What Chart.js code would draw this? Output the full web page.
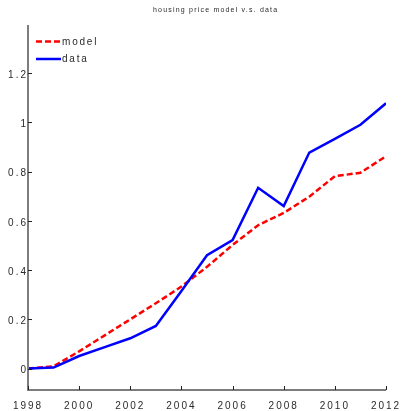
<!DOCTYPE html>
<html>
<head>
<meta charset="utf-8">
<script src="https://cdn.jsdelivr.net/npm/chart.js@4/dist/chart.umd.min.js"></script>
<style>
  html, body { margin: 0; padding: 0; background: #fff; }
  canvas { display: block; }
</style>
</head>
<body>
<canvas id="chart" width="403" height="411"></canvas>
<script>
// Housing price index: model output vs. observed data
const years = [1998, 1999, 2000, 2001, 2002, 2003, 2004, 2005, 2006, 2007, 2008, 2009, 2010, 2011, 2012];
const modelValues = [0, 0.009, 0.07, 0.135, 0.2, 0.265, 0.333, 0.413, 0.502, 0.582, 0.632, 0.698, 0.781, 0.795, 0.862];
const dataValues  = [0, 0.004, 0.051, 0.087, 0.123, 0.173, 0.315, 0.46, 0.522, 0.734, 0.66, 0.877, 0.933, 0.99, 1.077];
const xTickValues = [1998, 2000, 2002, 2004, 2006, 2008, 2010, 2012];
const yTickValues = [0, 0.2, 0.4, 0.6, 0.8, 1, 1.2];
const seriesNames = ['model', 'data'];
const titleText = 'housing price model v.s. data';

const FONT = '"Liberation Sans", Arial, sans-serif';
const TEXT_COLOR = '#2a2a2a';
const AXIS_COLOR = '#7d7d7d';

const toPoints = vals => years.map((y, i) => ({ x: y, y: vals[i] }));

// Spaced-out lettering for tick labels
const letterSpacing = {
  id: 'letterSpacing',
  beforeLayout(chart) { chart.ctx.letterSpacing = '2px'; },
  beforeDraw(chart) { chart.ctx.letterSpacing = '2px'; }
};

// Axis lines, inward tick marks, legend and title
const frame = {
  id: 'frame',
  afterDraw(chart) {
    const ctx = chart.ctx;
    const { left, right, top, bottom } = chart.chartArea;
    const xs = chart.scales.x, ys = chart.scales.y;
    ctx.save();
    ctx.setLineDash([]);
    ctx.strokeStyle = AXIS_COLOR;
    ctx.lineWidth = 2;
    ctx.beginPath();
    ctx.moveTo(left, top);
    ctx.lineTo(left, bottom);
    ctx.lineTo(right, bottom);
    ctx.stroke();

    ctx.strokeStyle = '#222';
    ctx.lineWidth = 1;
    ctx.beginPath();
    yTickValues.forEach(v => {
      const py = Math.round(ys.getPixelForValue(v)) + 0.5;
      ctx.moveTo(left, py);
      ctx.lineTo(left + 4, py);
    });
    xTickValues.forEach(v => {
      const px = Math.round(xs.getPixelForValue(v)) + 0.5;
      ctx.moveTo(px, bottom);
      ctx.lineTo(px, bottom - 4);
    });
    ctx.stroke();

    // legend
    const entries = chart.data.datasets;
    const legendY = [41.5, 59];
    entries.forEach((ds, i) => {
      const ly = legendY[i];
      ctx.strokeStyle = ds.borderColor;
      ctx.lineWidth = ds.borderWidth;
      ctx.setLineDash(ds.borderDash || []);
      ctx.beginPath();
      ctx.moveTo(36, ly);
      ctx.lineTo(61, ly);
      ctx.stroke();
      ctx.setLineDash([]);
      ctx.fillStyle = TEXT_COLOR;
      ctx.font = '10px ' + FONT;
      ctx.letterSpacing = '1.8px';
      ctx.textAlign = 'left';
      ctx.textBaseline = 'middle';
      ctx.fillText(ds.label, 62, ly + 0.5);
    });

    // title
    ctx.font = '7px ' + FONT;
    ctx.letterSpacing = '1.2px';
    ctx.fillStyle = TEXT_COLOR;
    ctx.textAlign = 'left';
    ctx.textBaseline = 'middle';
    ctx.fillText(titleText, 153, 10);
    ctx.restore();
  }
};

new Chart(document.getElementById('chart'), {
  type: 'line',
  data: {
    datasets: [
      {
        label: seriesNames[0],
        data: toPoints(modelValues),
        borderColor: '#ff0000',
        borderWidth: 2.5,
        borderDash: [6, 3],
        pointRadius: 0,
        tension: 0,
        order: 1
      },
      {
        label: seriesNames[1],
        data: toPoints(dataValues),
        borderColor: '#0000ff',
        borderWidth: 2.5,
        pointRadius: 0,
        tension: 0,
        order: 0
      }
    ]
  },
  options: {
    responsive: false,
    animation: false,
    devicePixelRatio: 1,
    layout: { padding: { top: 25, right: 17, left: 0, bottom: 0 } },
    plugins: {
      legend: { display: false },
      title: { display: false },
      tooltip: { enabled: false }
    },
    scales: {
      x: {
        type: 'linear',
        min: 1998,
        max: 2012,
        afterBuildTicks: s => { s.ticks = xTickValues.map(v => ({ value: v })); },
        afterFit: s => { s.height = 21; s.paddingLeft = 0; s.paddingRight = 0; },
        grid: { display: false, drawTicks: false },
        border: { display: false },
        ticks: {
          color: TEXT_COLOR,
          font: { family: FONT, size: 10 },
          padding: 10,
          maxRotation: 0,
          autoSkip: false,
          callback: v => String(v)
        }
      },
      y: {
        type: 'linear',
        min: -0.087,
        max: 1.395,
        afterBuildTicks: s => { s.ticks = yTickValues.map(v => ({ value: v })); },
        afterFit: s => { s.width = 28; s.paddingTop = 0; s.paddingBottom = 0; },
        grid: { display: false, drawTicks: false },
        border: { display: false },
        ticks: {
          color: TEXT_COLOR,
          font: { family: FONT, size: 10 },
          padding: 0,
          labelOffset: 2,
          autoSkip: false,
          callback: v => String(Math.round(v * 10) / 10)
        }
      }
    }
  },
  plugins: [letterSpacing, frame]
});
</script>
</body>
</html>
